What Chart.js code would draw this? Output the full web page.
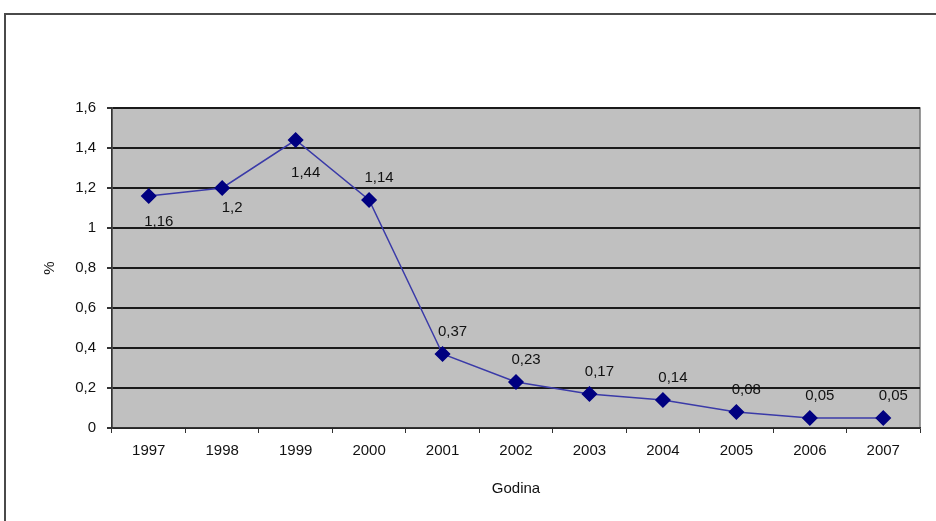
<!DOCTYPE html>
<html>
<head>
<meta charset="utf-8">
<script src="https://cdn.jsdelivr.net/npm/chart.js@4.4.0/dist/chart.umd.min.js"></script>
<style>
  body { margin: 0; background: #fff; overflow: hidden; }
  .frame { position: absolute; left: 4px; top: 13px; width: 1000px; height: 1000px; border: 2px solid #4a4a4a; }
  .wrap { position: absolute; left: 0; top: 0; width: 936px; height: 521px; }
</style>
</head>
<body>
<div class="frame"></div>
<div class="wrap"><canvas id="myChart" width="936" height="521"></canvas></div>
<script>
const years = ['1997', '1998', '1999', '2000', '2001', '2002', '2003', '2004', '2005', '2006', '2007'];
const percent = [1.16, 1.2, 1.44, 1.14, 0.37, 0.23, 0.17, 0.14, 0.08, 0.05, 0.05];
const yTicks = [0, 0.2, 0.4, 0.6, 0.8, 1, 1.2, 1.4, 1.6];

const fontFam = '"Liberation Sans", Arial, sans-serif';

function comma(v) {
  return String(Math.round(v * 100) / 100).replace('.', ',');
}

// gray plot background
const plotBg = {
  id: 'plotBg',
  beforeDraw(chart) {
    const a = chart.chartArea, ctx = chart.ctx;
    ctx.save();
    ctx.fillStyle = '#c0c0c0';
    ctx.fillRect(a.left, a.top, a.right - a.left, a.bottom - a.top);
    ctx.strokeStyle = '#7a7a7a';
    ctx.lineWidth = 1.5;
    ctx.strokeRect(a.left, a.top, a.right - a.left, a.bottom - a.top);
    ctx.restore();
  }
};

// value labels, first three sit under the point
const valueLabels = {
  id: 'valueLabels',
  afterDatasetsDraw(chart) {
    const ctx = chart.ctx;
    const meta = chart.getDatasetMeta(0);
    ctx.save();
    ctx.font = '15px ' + fontFam;
    ctx.fillStyle = '#111';
    ctx.textAlign = 'center';
    ctx.textBaseline = 'middle';
    meta.data.forEach(function(pt, i) {
      let dy = -22;
      if (i == 0) dy = 26;
      if (i == 1) dy = 20;
      if (i == 2) dy = 33;
      ctx.fillText(comma(percent[i]), pt.x + 10, pt.y + dy);
    });
    ctx.restore();
  }
};

const data = {
  labels: years,
  datasets: [{
    data: percent,
    borderColor: '#3a3aa8',
    borderWidth: 1.5,
    backgroundColor: '#000080',
    pointBackgroundColor: '#000080',
    pointBorderColor: '#000080',
    pointStyle: 'rectRot',
    pointRadius: 7,
    tension: 0
  }]
};

const config = {
  type: 'line',
  data: data,
  options: {
    responsive: false,
    animation: false,
    layout: { padding: { left: 37, right: 16, top: 108, bottom: 19 } },
    plugins: { legend: { display: false }, tooltip: { enabled: false } },
    scales: {
      x: {
        offset: true,
        afterFit(s) { s.height = 74; },
        grid: { display: true, drawOnChartArea: false, offset: true, tickLength: 5, color: '#333', lineWidth: 1 },
        border: { color: '#333', width: 1.5 },
        ticks: { color: '#111', padding: 9, font: { family: fontFam, size: 15 } },
        title: { display: true, text: 'Godina', color: '#111', font: { family: fontFam, size: 15 } }
      },
      y: {
        min: 0,
        max: 1.6,
        afterFit(s) { s.width = 75; },
        afterBuildTicks(s) { s.ticks = yTicks.map(function(v) { return { value: v }; }); },
        grid: { color: '#1a1a1a', lineWidth: 2, tickLength: 5, tickColor: '#333' },
        border: { color: '#333', width: 1.5 },
        ticks: {
          color: '#111', padding: 11,
          font: { family: fontFam, size: 15 },
          callback: function(v) { return comma(v); }
        },
        title: { display: true, text: '%', color: '#111', font: { family: fontFam, size: 15 } }
      }
    }
  },
  plugins: [plotBg, valueLabels]
};

const myChart = new Chart(document.getElementById('myChart').getContext('2d'), config);
</script>
</body>
</html>
